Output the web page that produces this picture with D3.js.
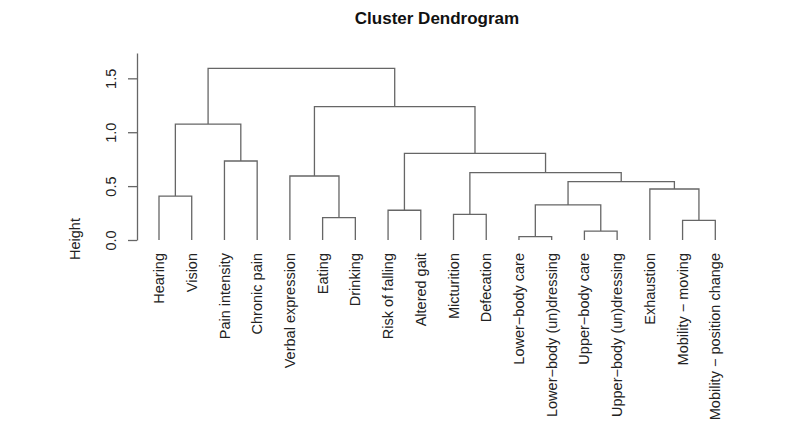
<!DOCTYPE html>
<html>
<head>
<meta charset="utf-8">
<script src="https://cdn.jsdelivr.net/npm/d3@7"></script>
<style>
  html, body { margin: 0; padding: 0; background: #fff; }
  svg { display: block; font-family: "Liberation Sans", Arial, sans-serif; }
</style>
</head>
<body>
<svg id="chart" width="800" height="433"></svg>
<script>
// ---- data ----
const leafLabels = [
  "Hearing", "Vision", "Pain intensity", "Chronic pain", "Verbal expression",
  "Eating", "Drinking", "Risk of falling", "Altered gait", "Micturition",
  "Defecation", "Lower\u2212body care", "Lower\u2212body (un)dressing",
  "Upper\u2212body care", "Upper\u2212body (un)dressing", "Exhaustion",
  "Mobility \u2212 moving", "Mobility \u2212 position change"
];
// R-style merge matrix: negative = leaf (1-based), positive = earlier merge step
const mergeLeft  = [-12, -14, -17, -6, -10, -8, 1, -1, -16, 7, -5, 5, -3, 6, 8, 11, 15];
const mergeRight = [-13, -15, -18, -7, -11, -9, 2, -2, 3, 9, 4, 10, -4, 12, 13, 14, 16];
const mergeHeights = [0.031, 0.083, 0.183, 0.207, 0.238, 0.276, 0.325, 0.408, 0.473,
                      0.541, 0.594, 0.626, 0.733, 0.804, 1.076, 1.237, 1.593];
const yTicks = [0, 0.5, 1.0, 1.5];
const yTickLabels = ["0.0", "0.5", "1.0", "1.5"];
const title = "Cluster Dendrogram";
const yTitle = "Height";

// ---- layout ----
const svg = d3.select("#chart");
const lineColor = "#666";
const textColor = "#222";

const x = d3.scalePoint().domain(d3.range(leafLabels.length)).range([159, 715.3]);
const y = d3.scaleLinear().domain([0, 1.735]).range([240, 53]);

// node positions
function nodeX(ref) { return ref < 0 ? x(-ref - 1) : mergeX[ref - 1]; }
function nodeH(ref) { return ref < 0 ? 0 : mergeHeights[ref - 1]; }
const mergeX = [];
mergeLeft.forEach((l, i) => {
  mergeX[i] = (nodeX(l) + nodeX(mergeRight[i])) / 2;
});

const g = svg.append("g")
  .attr("fill", "none")
  .attr("stroke", lineColor)
  .attr("stroke-width", 1.3);

mergeLeft.forEach((l, i) => {
  const r = mergeRight[i];
  const h = mergeHeights[i];
  const xl = nodeX(l), xr = nodeX(r);
  const p = d3.path();
  p.moveTo(xl, y(nodeH(l)));
  p.lineTo(xl, y(h));
  p.lineTo(xr, y(h));
  p.lineTo(xr, y(nodeH(r)));
  g.append("path").attr("d", p.toString());
});

// root stem? (R doesn't draw one)

// y axis
const axis = d3.axisLeft(y).tickValues(yTicks).tickSizeOuter(0).tickSizeInner(9)
  .tickFormat((d, i) => yTickLabels[i]);
const ax = svg.append("g").attr("transform", "translate(137,0)").call(axis);
ax.select(".domain").attr("stroke", lineColor).attr("stroke-width", 1.3);
ax.selectAll(".tick line").attr("stroke", lineColor).attr("stroke-width", 1.3);
ax.selectAll(".tick text")
  .attr("x", null).attr("dy", null)
  .attr("transform", "translate(-26,0) rotate(-90)")
  .attr("text-anchor", "middle")
  .attr("dy", "0.35em")
  .attr("fill", textColor)
  .style("font-size", "14.5px")
  .style("font-family", "Liberation Sans, Arial, sans-serif");

// leaf labels
svg.append("g").selectAll("text").data(leafLabels).join("text")
  .attr("transform", (d, i) => `translate(${x(i)},253) rotate(-90)`)
  .attr("text-anchor", "end")
  .attr("dy", "0.35em")
  .attr("fill", textColor)
  .style("font-size", "14.5px")
  .text(d => d);

// y title
svg.append("text")
  .attr("transform", "translate(75,239) rotate(-90)")
  .attr("text-anchor", "middle")
  .attr("dy", "0.35em")
  .attr("fill", textColor)
  .style("font-size", "14.5px")
  .text(yTitle);

// main title
svg.append("text")
  .attr("x", 437).attr("y", 24)
  .attr("text-anchor", "middle")
  .attr("fill", "#111")
  .style("font-size", "17px")
  .style("font-weight", "bold")
  .text(title);
</script>
</body>
</html>
